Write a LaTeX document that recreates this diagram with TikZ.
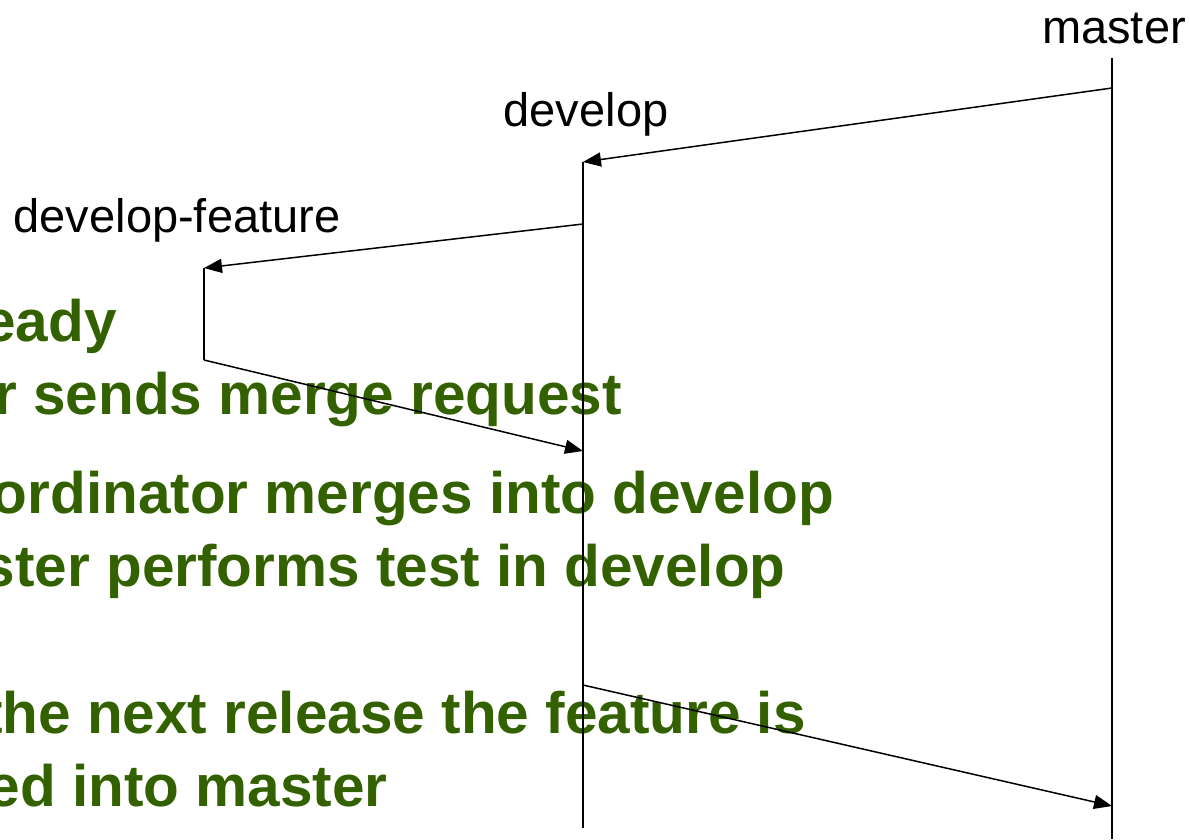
\documentclass[tikz,border=0pt]{standalone}
\usepackage{fontspec}
\setmainfont{Liberation Sans}
\usetikzlibrary{arrows.meta}
\definecolor{notegreen}{HTML}{336100}

\begin{document}
\begin{tikzpicture}[x=1pt,y=-1pt,
  branchname/.style={font=\fontsize{47}{56}\selectfont,anchor=base,inner sep=0pt},
  note/.style={font=\fontsize{58.5}{70}\selectfont\bfseries,text=notegreen,anchor=base east,inner sep=0pt},
  branch/.style={line width=1.5pt},
  flow/.style={line width=1.5pt,-{Triangle[length=18pt,width=14pt]}}]
\useasboundingbox (0,0) rectangle (1190,839);
\clip (0,0) rectangle (1190,839);
% branches
\coordinate (master top) at (1112,58);
\coordinate (master end) at (1112,839);
\coordinate (develop top) at (583,162);
\coordinate (develop end) at (583,828);
\coordinate (feature top) at (204,268);
\coordinate (feature end) at (204,360);
\coordinate (master out) at (1112,88);
\coordinate (develop out) at (583,224);
\coordinate (develop in) at (583,451);
\coordinate (develop rel) at (583,685);
\coordinate (master in) at (1112,806);
\node[branchname] (master) at (1114,43) {master};
\node[branchname] (develop) at (586,126) {develop};
\node[branchname] (feature) at (177,232) {develop-feature};
% steps
\node[note] (n1) at (117,341) {eady};
\node[note] (n2) at (622,414) {r sends merge request};
\node[note] (n3) at (834,513) {ordinator merges into develop};
\node[note] (n4) at (786,586) {ster performs test in develop};
\node[note] (n5) at (806,733) {the next release the feature is};
\node[note] (n6) at (388,806) {ed into master};
\draw[branch] (master top) -- (master end);
\draw[branch] (develop top) -- (develop end);
\draw[branch] (feature top) -- (feature end);
\draw[flow] (master out) -- (develop top);
\draw[flow] (develop out) -- (feature top);
\draw[flow] (feature end) -- (develop in);
\draw[flow] (develop rel) -- (master in);
\end{tikzpicture}
\end{document}
